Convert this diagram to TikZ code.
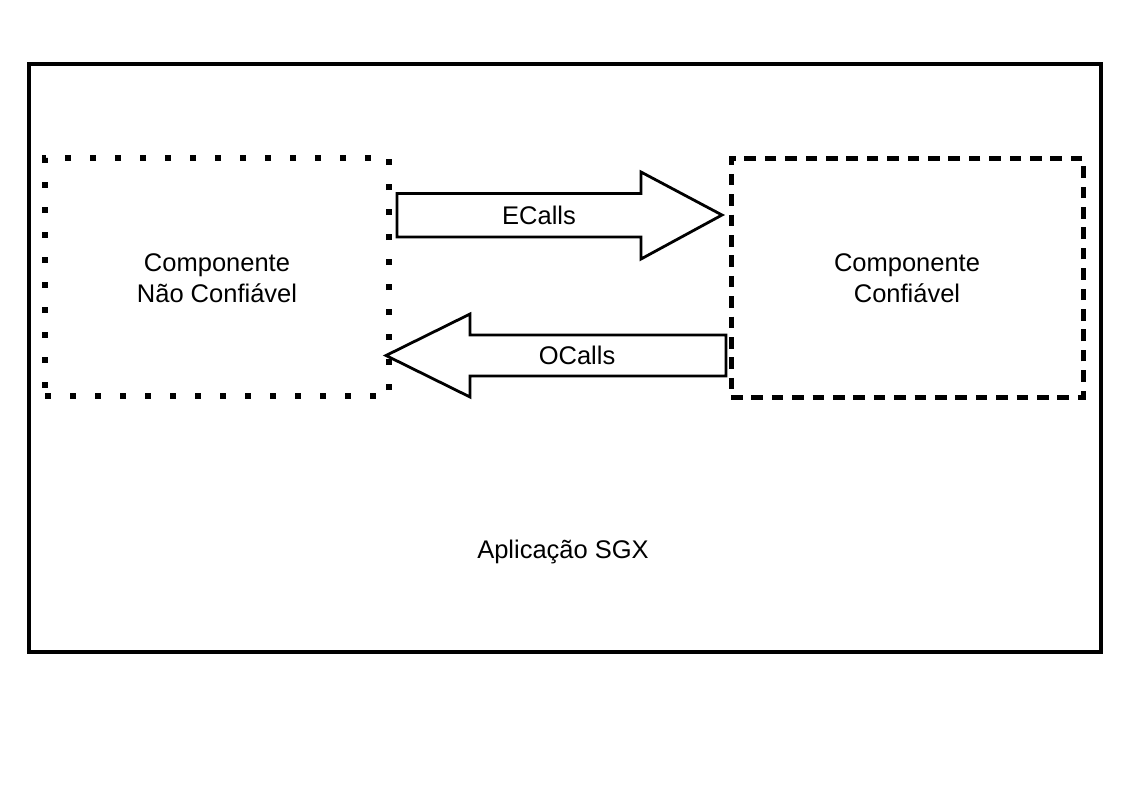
\documentclass[tikz,border=0pt]{standalone}
\usepackage{fontspec}
\setmainfont{Liberation Sans}
\usepackage{tikz}
\usetikzlibrary{fit,positioning,calc}

\tikzset{
  dotbox/.style={draw, line width=2.8pt, dash pattern=on 2.8pt off 9.7pt},
  dashbox/.style={draw, line width=2.5pt, dash pattern=on 5.8pt off 4.4pt},
  blockarr/.style={draw, line width=1.4pt, fill=white, line join=miter}
}

\begin{document}
\begin{tikzpicture}[x=0.5pt, y=-0.5pt, font=\fontsize{12.75}{15.5}\selectfont]
		\useasboundingbox (0,0) rectangle (1123,794);
		\node[fit={(29,64) (1101,652)}, inner sep=0pt, draw, line width=2pt] (sgx) {};
		\node at (563,552) (sgxlabel) {Aplicação SGX};
		\node[fit={(45,158) (389,396)}, inner sep=0pt, dotbox] (untrusted) {};
		\node[fit={(731,158) (1083,397)}, inner sep=0pt, dashbox] (trusted) {};
		\node[align=center] at ($(untrusted.center)+(0,1)$) (untrustedlabel) {Componente\\Não Confiável};
		\node[align=center] at ($(trusted.center)+(0,1)$) (trustedlabel) {Componente\\Confiável};
		\coordinate (e1) at (397,215);
		\coordinate (e2) at (722,215);
		\coordinate (o1) at (726,355.5);
		\coordinate (o2) at (386,355.5);
		\draw[blockarr] ($(e1)+(0,-21.5)$) -- ($(e2)+(-81,-21.5)$) -- ($(e2)+(-81,-43)$) -- (e2)
			-- ($(e2)+(-81,44)$) -- ($(e2)+(-81,22)$) -- ($(e1)+(0,22)$) -- cycle;
		\draw[blockarr] ($(o1)+(0,-20.5)$) -- ($(o2)+(84,-20.5)$) -- ($(o2)+(84,-41.5)$) -- (o2)
			-- ($(o2)+(84,41.5)$) -- ($(o2)+(84,20.5)$) -- ($(o1)+(0,20.5)$) -- cycle;
		\node at (539,215) (ecalls) {ECalls};
		\node at (577,355) (ocalls) {OCalls};
	\end{tikzpicture}
\end{document}
